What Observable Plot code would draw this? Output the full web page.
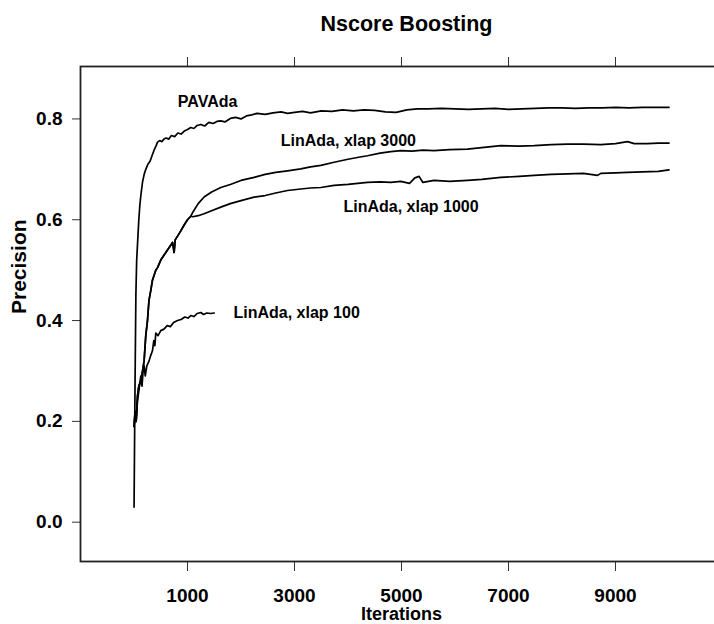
<!DOCTYPE html>
<html><head><meta charset="utf-8">
<script src="https://cdn.jsdelivr.net/npm/d3@7"></script>
<script src="https://cdn.jsdelivr.net/npm/@observablehq/plot@0.6"></script>
<style>
html,body{margin:0;padding:0;background:#fff;overflow:hidden;}
#chart svg{max-width:none !important;display:block;}
</style></head><body><div id="chart"></div>
<script>
// ---- data ----
const titleText = "Nscore Boosting";
const xLabel = "Iterations";
const yLabel = "Precision";
const xTicks = [1000, 3000, 5000, 7000, 9000];
const yTicks = [0, 0.2, 0.4, 0.6, 0.8];

const seriesNames = ["PAVAda", "LinAda, xlap 3000", "LinAda, xlap 1000", "LinAda, xlap 100"];

const pavIter = [1,10,20,35,50,70,90,110,130,160,190,220,260,300,340,375,410,440,480,520,560,600,650,700,760,820,880,940,1000,1060,1120,1180,1250,1320,1400,1480,1550,1620,1700,1800,1900,2000,2100,2200,2300,2450,2600,2750,2870,3000,3150,3300,3500,3700,3900,4100,4300,4500,4700,4900,5100,5300,5500,5750,6000,6250,6500,6750,7000,7250,7500,7750,8000,8250,8500,8750,9000,9250,9500,9750,10000];
const pavVal  = [0.03,0.15,0.28,0.45,0.52,0.56,0.60,0.63,0.65,0.675,0.69,0.70,0.71,0.716,0.728,0.738,0.746,0.754,0.757,0.755,0.760,0.762,0.760,0.767,0.765,0.772,0.770,0.776,0.779,0.783,0.781,0.787,0.789,0.786,0.793,0.791,0.795,0.796,0.794,0.801,0.803,0.800,0.806,0.808,0.811,0.809,0.812,0.814,0.811,0.813,0.815,0.812,0.816,0.815,0.818,0.816,0.818,0.817,0.814,0.813,0.818,0.820,0.820,0.821,0.820,0.819,0.820,0.821,0.819,0.820,0.821,0.822,0.822,0.821,0.822,0.822,0.823,0.822,0.823,0.823,0.823];

const x3000Iter = [1,20,40,65,90,127,160,189,220,252,280,314,345,376,407,440,500,563,626,690,720,750,770,800,875,940,1000,1062,1100,1200,1310,1450,1622,1800,2000,2245,2450,2650,2869,3118,3300,3492,3740,4000,4200,4364,4600,4800,4987,5200,5400,5609,5900,6234,6500,6856,7200,7479,7800,8103,8400,8725,9000,9224,9350,9600,9800,10000];
const x3000Val  = [0.19,0.22,0.20,0.25,0.27,0.28,0.30,0.32,0.37,0.40,0.44,0.46,0.48,0.49,0.50,0.505,0.52,0.53,0.54,0.55,0.555,0.535,0.56,0.565,0.578,0.59,0.60,0.607,0.615,0.632,0.645,0.655,0.664,0.670,0.678,0.684,0.690,0.694,0.697,0.701,0.705,0.708,0.714,0.720,0.724,0.727,0.732,0.735,0.737,0.736,0.738,0.737,0.739,0.740,0.743,0.747,0.746,0.747,0.749,0.750,0.750,0.749,0.751,0.755,0.751,0.751,0.752,0.752];

const x1000Iter = [1,20,40,65,90,127,160,189,220,252,280,314,345,376,407,440,500,563,626,690,720,750,770,800,875,940,1000,1062,1100,1200,1310,1450,1622,1800,2000,2245,2450,2650,2869,3118,3300,3492,3740,4000,4364,4600,4800,4987,5150,5250,5329,5400,5609,5900,6234,6500,6856,7200,7479,7800,8103,8400,8664,8725,9000,9224,9500,9800,10000];
const x1000Val  = [0.19,0.22,0.20,0.25,0.27,0.28,0.30,0.32,0.37,0.40,0.44,0.46,0.48,0.49,0.50,0.505,0.52,0.53,0.54,0.55,0.555,0.535,0.56,0.565,0.578,0.59,0.60,0.607,0.606,0.608,0.612,0.618,0.625,0.632,0.638,0.645,0.648,0.653,0.658,0.661,0.663,0.664,0.668,0.670,0.674,0.675,0.674,0.676,0.672,0.683,0.686,0.674,0.678,0.676,0.678,0.680,0.684,0.686,0.688,0.690,0.691,0.692,0.688,0.692,0.693,0.694,0.695,0.696,0.699];

const x100Iter = [1,20,40,65,90,127,150,170,189,210,240,282,310,345,370,390,407,450,500,560,620,680,740,813,880,950,1010,1062,1120,1180,1249,1300,1360,1435,1500];
const x100Val  = [0.19,0.21,0.20,0.24,0.26,0.29,0.27,0.30,0.31,0.29,0.31,0.32,0.33,0.34,0.36,0.35,0.375,0.37,0.38,0.383,0.39,0.388,0.396,0.40,0.402,0.407,0.405,0.41,0.408,0.414,0.416,0.412,0.415,0.414,0.415];

const labelText = ["PAVAda", "LinAda, xlap 3000", "LinAda, xlap 1000", "LinAda, xlap 100"];
const labelX = [819, 2744, 3916, 1860];
const labelY = [0.833, 0.757, 0.625, 0.415];

// ---- build table ----
const iters = [pavIter, x3000Iter, x1000Iter, x100Iter];
const vals = [pavVal, x3000Val, x1000Val, x100Val];
const rows = [];
seriesNames.forEach((name, i) => iters[i].forEach((it, j) => rows.push({series: name, it, v: vals[i][j]})));
const labels = labelText.map((t, i) => ({t, x: labelX[i], y: labelY[i]}));

const font = "'Liberation Sans', Arial, Helvetica, sans-serif";
const plot = Plot.plot({
  width: 724, height: 624,
  marginLeft: 80, marginRight: 2, marginTop: 66, marginBottom: 63,
  style: {fontFamily: font, fontWeight: "bold", fontSize: "19px", background: "white", color: "black", maxWidth: "none"},
  x: {domain: [-1000, 11000]},
  y: {domain: [-0.078, 0.904]},
  marks: [
    Plot.axisX(xTicks, {anchor: "bottom", tickSize: 10, tickPadding: 17, tickFormat: d3.format("d"), label: null, stroke: "#333", fontSize: 19}),
    Plot.axisX(xTicks, {anchor: "top", tickSize: 10, tickFormat: () => "", label: null, stroke: "#333"}),
    Plot.axisY(yTicks, {anchor: "left", tickSize: 8, tickPadding: 10, tickFormat: d3.format(".1f"), label: null, stroke: "#333", fontSize: 19}),
    Plot.frame({stroke: "#222", strokeWidth: 1.8}),
    Plot.line(rows, {x: "it", y: "v", z: "series", stroke: "black", strokeWidth: 1.7, strokeLinejoin: "round"}),
    Plot.text(labels, {x: "x", y: "y", text: "t", textAnchor: "start", lineAnchor: "middle", fontSize: 16, fontWeight: "bold", fill: "black"}),
    Plot.text([titleText], {frameAnchor: "top", dy: -42, dx: 5, text: d => d, fontSize: 21.5, fontWeight: "bold", lineAnchor: "middle"}),
    Plot.text([xLabel], {frameAnchor: "bottom", dy: 53, text: d => d, fontSize: 18, fontWeight: "bold", lineAnchor: "middle"}),
    Plot.text([yLabel], {frameAnchor: "left", dx: -61.5, rotate: -90, text: d => d, fontSize: 21, fontWeight: "bold", lineAnchor: "middle"})
  ]
});
document.getElementById("chart").appendChild(plot);
</script></body></html>
